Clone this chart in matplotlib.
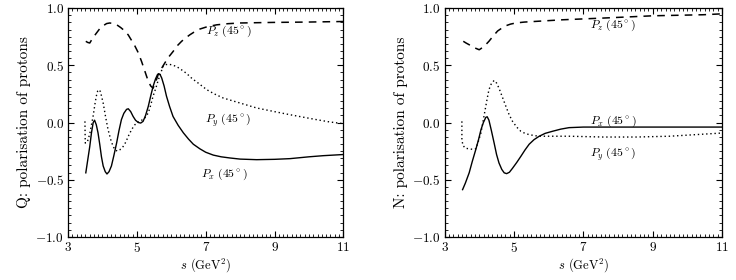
import matplotlib
matplotlib.use("Agg")
import matplotlib.pyplot as plt
from matplotlib.ticker import MultipleLocator, FixedLocator, FuncFormatter

plt.rcParams['font.family'] = 'serif'
plt.rcParams['font.serif'] = ['cmr10', 'DejaVu Serif']
plt.rcParams['mathtext.fontset'] = 'cm'
plt.rcParams['axes.formatter.use_mathtext'] = True

# --- Q panel (left) ---
q_px_s = [3.515, 3.57, 3.63, 3.68, 3.73, 3.77, 3.82, 3.87, 3.92, 3.97, 4.02, 4.08, 4.13, 4.19,
          4.26, 4.33, 4.41, 4.48, 4.55, 4.62, 4.70, 4.75, 4.82, 4.89, 4.96, 5.04, 5.11, 5.18,
          5.25, 5.33, 5.40, 5.47, 5.54, 5.60, 5.64, 5.68, 5.72, 5.79, 5.86, 5.95, 6.05, 6.20,
          6.35, 6.50, 6.64, 6.83, 7.0, 7.22, 7.45, 7.70, 8.0, 8.48, 9.0, 9.45, 10.0, 10.42, 11.0]
q_px_v = [-0.44, -0.33, -0.21, -0.09, 0.0, 0.02, -0.02, -0.09, -0.19, -0.30, -0.38, -0.43, -0.45, -0.43,
          -0.38, -0.29, -0.18, -0.07, 0.025, 0.08, 0.115, 0.12, 0.095, 0.053, 0.02, 0.0, -0.005, 0.01,
          0.06, 0.14, 0.23, 0.315, 0.38, 0.42, 0.426, 0.415, 0.39, 0.32, 0.23, 0.14, 0.053, -0.025,
          -0.09, -0.145, -0.19, -0.23, -0.26, -0.285, -0.30, -0.31, -0.32, -0.325, -0.322, -0.316, -0.30, -0.29, -0.28]

q_py_s = [3.49, 3.495, 3.50, 3.56, 3.63, 3.68, 3.73, 3.78, 3.82, 3.86, 3.90, 3.94, 3.98, 4.02,
          4.09, 4.16, 4.24, 4.31, 4.37, 4.43, 4.50, 4.60, 4.68, 4.75, 4.85, 4.94, 5.04, 5.13,
          5.23, 5.33, 5.40, 5.47, 5.55, 5.62, 5.69, 5.76, 5.83, 5.91, 6.0, 6.15, 6.30, 6.44,
          6.60, 6.78, 7.03, 7.25, 7.51, 8.0, 8.48, 9.0, 9.45, 10.22, 10.6, 11.0]
q_py_v = [0.01, -0.10, -0.18, -0.17, -0.10, -0.02, 0.06, 0.16, 0.23, 0.275, 0.287, 0.27, 0.22, 0.17,
          0.05, -0.06, -0.15, -0.21, -0.24, -0.25, -0.24, -0.21, -0.17, -0.12, -0.06, -0.02, 0.005, 0.018,
          0.04, 0.083, 0.15, 0.23, 0.30, 0.37, 0.43, 0.49, 0.505, 0.51, 0.505, 0.49, 0.46, 0.43,
          0.385, 0.345, 0.287, 0.25, 0.214, 0.17, 0.127, 0.095, 0.068, 0.025, 0.005, -0.01]

q_pz_s = [3.515, 3.57, 3.63, 3.72, 3.82, 3.92, 4.02, 4.12, 4.21, 4.31, 4.41, 4.53, 4.65, 4.75,
          4.84, 4.94, 5.04, 5.14, 5.23, 5.32, 5.40, 5.47, 5.54, 5.62, 5.71, 5.81, 5.93, 6.05,
          6.17, 6.30, 6.42, 6.54, 6.66, 6.83, 7.05, 7.32, 7.65, 8.0, 8.96, 9.93, 11.0]
q_pz_v = [0.71, 0.70, 0.695, 0.74, 0.78, 0.82, 0.846, 0.865, 0.87, 0.866, 0.855, 0.83, 0.80, 0.765,
          0.72, 0.67, 0.61, 0.53, 0.45, 0.37, 0.32, 0.30, 0.35, 0.42, 0.47, 0.52, 0.575, 0.62,
          0.67, 0.71, 0.74, 0.767, 0.79, 0.817, 0.838, 0.854, 0.864, 0.87, 0.875, 0.878, 0.883]

# --- N panel (right) ---
n_px_s = [3.52, 3.60, 3.71, 3.80, 3.90, 3.98, 4.05, 4.12, 4.19, 4.23, 4.28, 4.35, 4.43, 4.50,
          4.57, 4.65, 4.72, 4.79, 4.87, 4.96, 5.08, 5.20, 5.32, 5.44, 5.58, 5.73, 5.90, 6.11,
          6.35, 6.59, 7.0, 7.57, 9.0, 11.0]
n_px_v = [-0.587, -0.53, -0.44, -0.34, -0.237, -0.15, -0.063, 0.0, 0.045, 0.05, 0.02, -0.07, -0.18, -0.28,
          -0.354, -0.41, -0.44, -0.447, -0.435, -0.40, -0.35, -0.296, -0.24, -0.19, -0.15, -0.12, -0.095, -0.077,
          -0.058, -0.045, -0.04, -0.04, -0.04, -0.04]

n_py_s = [3.50, 3.50, 3.53, 3.60, 3.71, 3.82, 3.90, 3.97, 4.05, 4.11, 4.17, 4.23, 4.28, 4.35,
          4.43, 4.50, 4.57, 4.67, 4.77, 4.86, 4.96, 5.08, 5.20, 5.32, 5.44, 5.60, 5.73, 6.59,
          7.57, 8.53, 9.49, 10.3, 11.0]
n_py_v = [0.01, -0.15, -0.20, -0.225, -0.23, -0.235, -0.23, -0.17, -0.09, 0.01, 0.11, 0.21, 0.287, 0.34,
          0.368, 0.345, 0.30, 0.22, 0.14, 0.07, 0.01, -0.04, -0.077, -0.095, -0.106, -0.115, -0.12, -0.12,
          -0.127, -0.127, -0.12, -0.105, -0.092]

n_pz_s = [3.54, 3.62, 3.71, 3.85, 4.0, 4.14, 4.28, 4.40, 4.53, 4.65, 4.77, 4.90, 5.05, 5.30,
          5.63, 6.40, 7.57, 9.01, 10.45, 11.0]
n_pz_v = [0.71, 0.695, 0.68, 0.655, 0.636, 0.665, 0.71, 0.755, 0.80, 0.825, 0.846, 0.86, 0.87, 0.878,
          0.884, 0.898, 0.913, 0.933, 0.942, 0.95]

x_ticks = [3, 5, 7, 9, 11]

panels = [
    ("Q: polarisation of protons",
     [(q_pz_s, q_pz_v, "pz"), (q_py_s, q_py_v, "py"), (q_px_s, q_px_v, "px")],
     [(7.0, 0.80, r"$P_z\ (45^\circ)$"), (6.97, 0.02, r"$P_y\ (45^\circ)$"),
      (6.86, -0.45, r"$P_x\ (45^\circ)$")]),
    ("N: polarisation of protons",
     [(n_pz_s, n_pz_v, "pz"), (n_py_s, n_py_v, "py"), (n_px_s, n_px_v, "px")],
     [(7.2, 0.85, r"$P_z\ (45^\circ)$"), (7.2, 0.01, r"$P_x\ (45^\circ)$"),
      (7.2, -0.28, r"$P_y\ (45^\circ)$")]),
]

styles = {
    "pz": dict(linestyle=(0, (5, 4)), linewidth=1.1),
    "py": dict(linestyle=(0, (1, 2)), linewidth=1.0),
    "px": dict(linestyle="-", linewidth=1.0),
}

fig = plt.figure(figsize=(7.36, 2.80), dpi=100)
ax1 = fig.add_axes([0.0925, 0.154, 0.374, 0.817])
ax2 = fig.add_axes([0.604, 0.154, 0.377, 0.817])

for ax, (ylab, curves, labels) in zip([ax1, ax2], panels):
    for s, v, key in curves:
        ax.plot(s, v, color="black", **styles[key])
    for x, y, txt in labels:
        ax.text(x, y, txt, fontsize=8.5, va="center", ha="left")
    ax.set_xlim(3, 11)
    ax.set_ylim(-1.0, 1.0)
    ax.xaxis.set_major_locator(FixedLocator(x_ticks))
    ax.xaxis.set_minor_locator(MultipleLocator(0.125))
    ax.yaxis.set_major_locator(MultipleLocator(0.5))
    ax.yaxis.set_minor_locator(MultipleLocator(0.0625))
    ax.xaxis.set_major_formatter(FuncFormatter(lambda v, p: "$%d$" % v))
    ax.yaxis.set_major_formatter(FuncFormatter(lambda v, p: "$%.1f$" % v))
    ax.tick_params(which="both", direction="in", top=True, right=True, labelsize=9.5, pad=3)
    ax.tick_params(which="major", length=4, width=0.8)
    ax.tick_params(which="minor", length=2, width=0.6)
    for sp in ax.spines.values():
        sp.set_linewidth(0.9)
    ax.set_xlabel(r"$s$ (GeV$^2$)", fontsize=9, labelpad=1)
    ax.set_ylabel(ylab, fontsize=11, labelpad=3)

fig.savefig("out.png", dpi=100)
